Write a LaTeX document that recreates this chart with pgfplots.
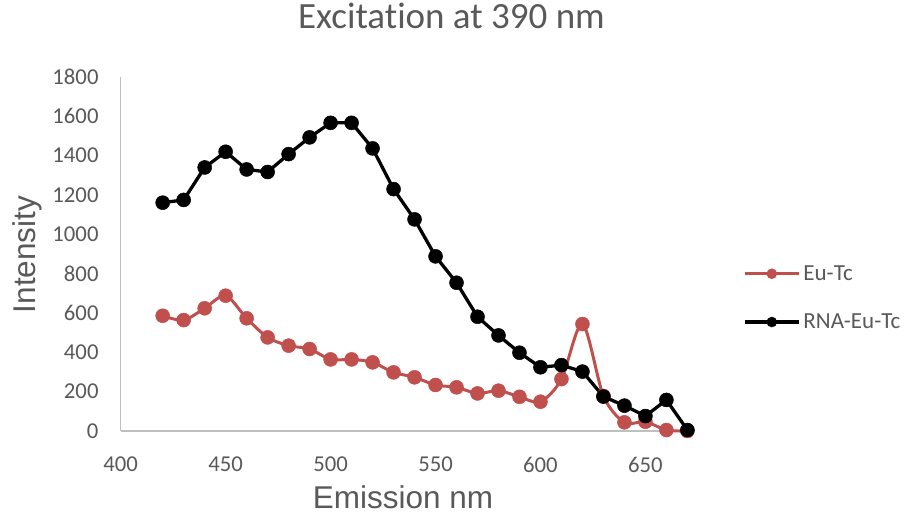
\documentclass[border=0pt]{standalone}
\usepackage{pgfplots}
\pgfplotsset{compat=1.18}
\usepackage{fontspec}
\setmainfont{Carlito}[Ligatures=CommonOff]
\newfontfamily\arialfont{Liberation Sans}
\definecolor{txt}{HTML}{595959}
\definecolor{axl}{HTML}{BFBFBF}
\definecolor{redone}{HTML}{C0504D}
\begin{document}
\begin{tikzpicture}[x=1pt,y=1pt]
\useasboundingbox (0,0) rectangle (909,523);
\begin{axis}[
  at={(120.7pt,92pt)}, anchor=south west,
  width=566.7pt, height=354pt, scale only axis,
  xmin=400, xmax=670, ymin=0, ymax=1800,
  xtick={400,450,...,650}, ytick={0,200,...,1800},
  axis lines*=left,
  axis line style={axl, line width=1.5pt},
  major tick length=0pt,
  clip=false,
  /pgf/number format/assume math mode=true,
  /pgf/number format/1000 sep={},
  tick label style={font=\fontsize{22.7}{27}\selectfont, text=txt},
  xticklabel style={inner sep=0pt, anchor=north, yshift=-26pt},
  yticklabel style={inner sep=0pt, anchor=east, xshift=-22pt},
  title={Excitation at 390 nm},
  title style={at={(axis description cs:0.5837,1.155)}, anchor=center, inner sep=0pt, font=\fontsize{37}{44}\selectfont, text=txt},
  xlabel={Emission nm},
  xlabel style={at={(axis description cs:0.498,-0.186)}, anchor=center, inner sep=0pt, font=\arialfont\fontsize{31.5}{38}\selectfont, text=txt},
  ylabel={Intensity},
  ylabel style={at={(axis description cs:-0.1653,0.4986)}, anchor=center, inner sep=0pt, font=\arialfont\fontsize{31.5}{38}\selectfont, text=txt},
  legend cell align=left,
  legend style={at={(axis description cs:1.098,0.376)}, anchor=west, draw=none, fill=none, inner sep=0pt,
    font=\fontsize{23}{28}\selectfont, text=txt, row sep=26pt, nodes={inner sep=3pt}},
  legend image code/.code={\draw[mark repeat=2,mark phase=2,#1,mark size=5pt] plot coordinates {(0pt,0pt) (27pt,0pt) (54pt,0pt)};},
]
\addplot[redone, line width=3pt, smooth, mark=*, mark size=7pt, mark options={line width=0.5pt}] coordinates {
(420,586) (430,564) (440,624) (450,688) (460,573) (470,476) (480,434) (490,417)
(500,364) (510,364) (520,349) (530,298) (540,273) (550,234) (560,222) (570,191)
(580,205) (590,174) (600,149) (610,264) (620,544) (630,178) (640,44) (650,47)
(660,5) (670,0)
};
\addlegendentry{Eu-Tc}
\addplot[black, line width=3.3pt, mark=*, mark size=7pt, mark options={line width=0.5pt}] coordinates {
(420,1161) (430,1175) (440,1340) (450,1420) (460,1330) (470,1317) (480,1408) (490,1493)
(500,1567) (510,1567) (520,1437) (530,1230) (540,1076) (550,888) (560,754) (570,581)
(580,486) (590,398) (600,324) (610,335) (620,302) (630,175) (640,129) (650,76)
(660,158) (670,5)
};
\addlegendentry{RNA-Eu-Tc}
\end{axis}
\end{tikzpicture}
\end{document}
